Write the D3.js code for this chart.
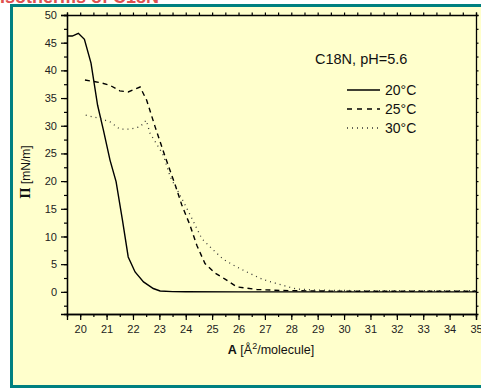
<!DOCTYPE html>
<html>
<head>
<meta charset="utf-8">
<script src="https://cdn.jsdelivr.net/npm/d3@7"></script>
<style>
  body { margin: 0; background: #fff; }
  svg { display: block; font-family: Arial, "Liberation Sans", sans-serif; }
</style>
</head>
<body>
<svg id="chart" width="481" height="388"></svg>
<script>
// isotherm data
var area20 = [19.5, 19.7, 19.93, 20.16, 20.41, 20.66, 20.88, 21.13, 21.36, 21.6, 21.82, 22.08, 22.4, 22.77, 23.03, 23.5, 24, 26, 28, 30, 32, 35];
var pi20 =   [46.2, 46.2, 46.7, 45.6, 41.3, 33.7, 29.2, 23.8, 19.9, 13.0, 6.3, 3.6, 1.8, 0.6, 0.15, 0.05, 0.02, 0.0, 0.0, 0.0, 0.0, 0.0];

var area25 = [20.18, 20.75, 21.13, 21.5, 21.82, 22.27, 22.52, 22.84, 23.22, 23.6, 23.85, 24.16, 24.42, 24.73, 25.11, 25.49, 25.93, 26.69, 27.58, 29, 31, 35];
var pi25 =   [38.25, 37.8, 37.3, 36.3, 36.1, 37.0, 34.6, 29.8, 24.4, 19.3, 15.7, 12.05, 8.4, 5.1, 3.4, 2.3, 0.9, 0.43, 0.25, 0.15, 0.1, 0.1];

var area30 = [20.21, 20.75, 21.13, 21.5, 21.89, 22.27, 22.5, 22.65, 22.96, 23.15, 23.41, 23.91, 24.23, 24.61, 24.99, 25.43, 25.93, 26.44, 26.94, 27.45, 27.96, 28.2, 29, 31, 35];
var pi30 =   [31.9, 31.3, 30.7, 29.4, 29.4, 29.8, 31.0, 28.6, 26.2, 24.7, 20.8, 16.3, 13.3, 9.6, 7.8, 5.85, 4.5, 3.3, 2.2, 1.5, 0.8, 0.5, 0.3, 0.2, 0.2];

var seriesNames = ['20°C', '25°C', '30°C'];
var xTicks = [20, 21, 22, 23, 24, 25, 26, 27, 28, 29, 30, 31, 32, 33, 34, 35];
var yTicks = [0, 5, 10, 15, 20, 25, 30, 35, 40, 45, 50];

function drawChart() {
    var svg = d3.select('#chart');

    // header text, cut off at the top edge of the picture
    svg.append('text')
        .attr('x', 0).attr('y', 3)
        .attr('fill', '#e05050')
        .style('font-size', '18px')
        .style('font-weight', 'bold')
        .text('Isotherms of C18N');

    // yellow panel with teal frame
    svg.append('rect')
        .attr('x', 11.5).attr('y', 5.5)
        .attr('width', 500).attr('height', 381)
        .attr('fill', '#ffffcc')
        .attr('stroke', '#008080')
        .attr('stroke-width', 3);

    var pLeft = 67, pRight = 476, pTop = 15, pBottom = 314;

    var x = d3.scaleLinear().domain([19.5, 35]).range([pLeft, pRight]);
    var y = d3.scaleLinear().domain([-4, 50]).range([pBottom, pTop]);

    var minorX = d3.range(19.5, 35.01, 0.5);
    var minorY = d3.range(-2.5, 50.01, 2.5);

    // bottom axis
    var gx = svg.append('g').attr('transform', 'translate(0,' + pBottom + ')');
    gx.call(d3.axisBottom(x).tickValues(minorX).tickSize(3).tickFormat(''));
    gx.append('g').call(d3.axisBottom(x).tickValues(xTicks).tickSize(6).tickPadding(5).tickFormat(d3.format('d')));

    // left axis
    var gy = svg.append('g').attr('transform', 'translate(' + pLeft + ',0)');
    gy.call(d3.axisLeft(y).tickValues(minorY).tickSize(3).tickFormat(''));
    gy.append('g').call(d3.axisLeft(y).tickValues(yTicks).tickSize(6).tickPadding(4).tickFormat(d3.format('d')));

    // mirror axes
    svg.append('g').attr('transform', 'translate(0,' + pTop + ')')
        .call(d3.axisTop(x).tickValues(minorX).tickSize(2.5).tickFormat(''));
    svg.append('g').attr('transform', 'translate(' + pRight + ',0)')
        .call(d3.axisRight(y).tickValues(minorY).tickSize(2.5).tickFormat(''));

    svg.selectAll('.domain').attr('stroke', '#000').attr('stroke-width', 1.3);
    svg.selectAll('.tick line').attr('stroke', '#000').attr('stroke-width', 1.2);
    svg.selectAll('.tick text').attr('fill', '#222').style('font-size', '11px');

    // curves
    var line = d3.line()
        .x(function (d) { return x(d[0]); })
        .y(function (d) { return y(d[1]); });

    var styles = [
        { dash: null, width: 1.4, color: '#000' },
        { dash: '5,4', width: 1.4, color: '#000' },
        { dash: '1,4', width: 1.3, color: '#333' }
    ];

    var allSeries = [
        d3.zip(area20, pi20),
        d3.zip(area25, pi25),
        d3.zip(area30, pi30)
    ];

    svg.append('defs').append('clipPath').attr('id', 'plotclip')
        .append('rect').attr('x', pLeft).attr('y', pTop)
        .attr('width', pRight - pLeft).attr('height', pBottom - pTop);

    var plot = svg.append('g').attr('clip-path', 'url(#plotclip)');

    allSeries.forEach(function (s, i) {
        plot.append('path')
            .datum(s)
            .attr('d', line)
            .attr('fill', 'none')
            .attr('stroke', styles[i].color)
            .attr('stroke-width', styles[i].width)
            .attr('stroke-dasharray', styles[i].dash);
    });

    // legend
    svg.append('text')
        .attr('x', 315).attr('y', 64)
        .style('font-size', '14.5px')
        .attr('fill', '#111')
        .text('C18N, pH=5.6');

    seriesNames.forEach(function (name, i) {
        var ly = 90 + i * 19;
        svg.append('line')
            .attr('x1', 347).attr('x2', 380)
            .attr('y1', ly).attr('y2', ly)
            .attr('stroke', styles[i].color)
            .attr('stroke-width', styles[i].width)
            .attr('stroke-dasharray', i === 1 ? '5,5' : styles[i].dash);
        svg.append('text')
            .attr('x', 385).attr('y', ly + 5)
            .style('font-size', '14px')
            .attr('fill', '#111')
            .text(name);
    });

    // axis titles
    var xt = svg.append('text')
        .attr('x', 271).attr('y', 354)
        .attr('text-anchor', 'middle')
        .style('font-size', '12.5px')
        .attr('fill', '#111');
    xt.append('tspan').style('font-weight', 'bold').text('A');
    xt.append('tspan').text(' [Å');
    xt.append('tspan').attr('dy', -5).style('font-size', '9px').text('2');
    xt.append('tspan').attr('dy', 5).text('/molecule]');

    var yt = svg.append('text')
        .attr('transform', 'translate(30,172) rotate(-90)')
        .attr('text-anchor', 'middle')
        .style('font-size', '12px')
        .attr('fill', '#111');
    yt.append('tspan').style('font-weight', 'bold').style('font-family', '"DejaVu Serif", serif').text('Π');
    yt.append('tspan').text(' [mN/m]');
}

drawChart();
</script>
</body>
</html>
